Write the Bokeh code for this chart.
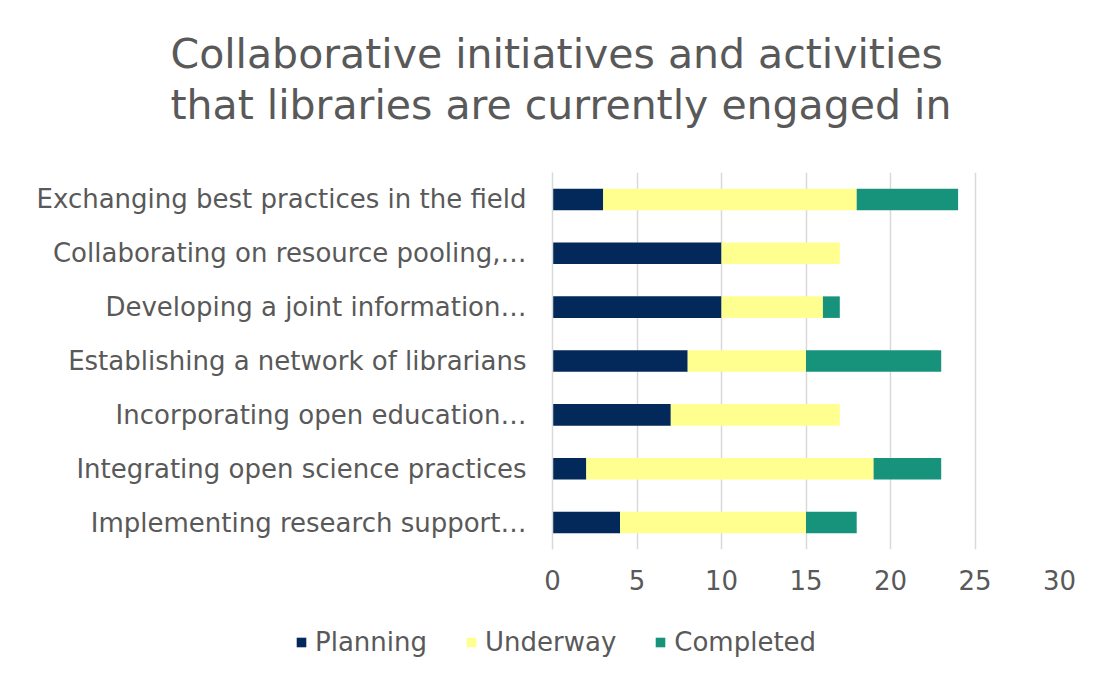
from bokeh.plotting import figure
from bokeh.layouts import column
from bokeh.models import FactorRange, Range1d, Title, Legend, LegendItem, ColumnDataSource, FixedTicker
from bokeh.embed import file_html
from bokeh.resources import INLINE

categories = [
    "Exchanging best practices in the field",
    "Collaborating on resource pooling,\u2026",
    "Developing a joint information\u2026",
    "Establishing a network of librarians",
    "Incorporating open education\u2026",
    "Integrating open science practices",
    "Implementing research support\u2026",
]
planning = [3, 10, 10, 8, 7, 2, 4]
underway = [15, 7, 6, 7, 10, 17, 11]
completed = [6, 0, 1, 8, 0, 4, 3]
series = ["Planning", "Underway", "Completed"]
x_ticks = [0, 5, 10, 15, 20, 25, 30]
title_lines = ["Collaborative initiatives and activities", "that libraries are currently engaged in"]

colors = ["#03295A", "#FFFF8F", "#16937A"]
TXT = "#595959"
FONT = "DejaVu Sans"

source = ColumnDataSource(dict(cat=categories, Planning=planning, Underway=underway, Completed=completed))

W = 1085
p = figure(width=W, height=610,
           y_range=FactorRange(factors=list(reversed(categories))),
           x_range=Range1d(0, 30),
           output_backend="svg", toolbar_location=None,
           min_border_left=552, min_border_right=26, min_border_top=172, min_border_bottom=61)
p.outline_line_color = None
p.background_fill_color = "white"
p.border_fill_color = "white"

rs = p.hbar_stack(series, y="cat", height=0.4, color=colors, source=source, line_width=0)

p.xaxis.ticker = FixedTicker(ticks=x_ticks)
p.xgrid.ticker = FixedTicker(ticks=x_ticks)
p.xaxis.axis_line_color = None
p.xaxis.major_tick_line_color = None
p.xaxis.minor_tick_line_color = None
p.xaxis.major_label_text_font_size = "26px"
p.xaxis.major_label_text_color = TXT
p.xaxis.major_label_text_font = FONT
p.xaxis.major_label_standoff = 14

p.yaxis.axis_line_color = "#d9d9d9"
p.yaxis.axis_line_width = 1.5
p.yaxis.major_tick_line_color = None
p.yaxis.minor_tick_line_color = None
p.yaxis.major_label_text_font_size = "26px"
p.yaxis.major_label_text_color = TXT
p.yaxis.major_label_text_font = FONT
p.yaxis.major_label_standoff = 20

p.ygrid.grid_line_color = None
p.xgrid.grid_line_color = "#d9d9d9"
p.xgrid.grid_line_width = 1.5

# gap between title and plot area (added first, so it sits next to the frame)
gap = Title(text=" ", text_font_size="1px", standoff=40, text_color="white")
p.add_layout(gap, "above")
title = Title(text="\n".join(title_lines), align="left", offset=-382,
              text_font=FONT, text_font_size="41px", text_color=TXT,
              text_font_style="normal", standoff=0, text_line_height=1.07)
p.add_layout(title, "above")

# legend strip below the chart
lg = figure(width=W, height=63, x_range=Range1d(0, 1), y_range=Range1d(0, 1),
            output_backend="svg", toolbar_location=None,
            min_border_left=0, min_border_right=0, min_border_top=0, min_border_bottom=0)
lg.axis.visible = False
lg.outline_line_color = None
lg.background_fill_color = "white"
lg.border_fill_color = "white"
lg.xgrid.visible = False
lg.ygrid.visible = False
dsrc = ColumnDataSource(dict(y=[-5], right=[-5]))
dummies = [lg.hbar(y="y", right="right", height=0.4, fill_color=c, line_color=None, source=dsrc) for c in colors]
legend = Legend(items=[LegendItem(label=s, renderers=[r]) for s, r in zip(series, dummies)],
                orientation="horizontal", location=(295, 16),
                glyph_width=12, glyph_height=12, label_standoff=8, spacing=38,
                padding=0, margin=0, border_line_color=None, background_fill_alpha=0,
                label_text_font=FONT, label_text_font_size="26px", label_text_color=TXT)
lg.add_layout(legend, "center")

for f in (p, lg):
    try:
        f.frame_align = False
    except AttributeError:
        pass

layout = column(p, lg, spacing=0)
open("out.html", "w").write(file_html(layout, INLINE))
